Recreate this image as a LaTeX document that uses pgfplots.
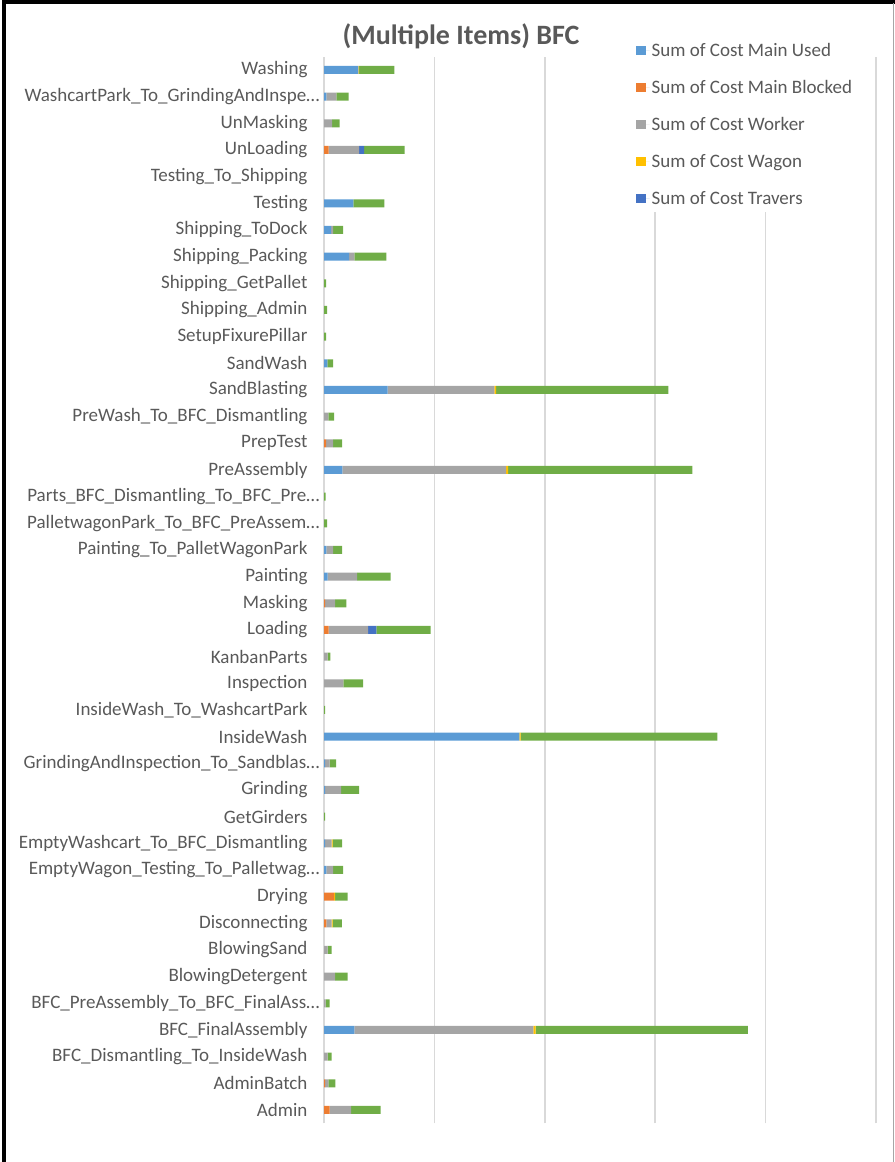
\documentclass[border=0pt]{standalone}
\usepackage{pgfplots}
\pgfplotsset{compat=1.18}
\usepackage{pgfplotstable}
\usepackage{fontspec}
\setmainfont{Carlito}
\definecolor{cUsed}{HTML}{5B9BD5}
\definecolor{cBlocked}{HTML}{ED7D31}
\definecolor{cWorker}{HTML}{A5A5A5}
\definecolor{cWagon}{HTML}{FFC000}
\definecolor{cTravers}{HTML}{4472C4}
\definecolor{cGreen}{HTML}{70AD47}
\definecolor{txt}{HTML}{595959}
\definecolor{gridc}{HTML}{D9D9D9}
\newcommand{\trunc}{…\hspace*{-12bp}}

\pgfplotstableread{
y U B W Wa T G
0 0 5.7 21.3 0 0 29.7
1 0 1 3.3 0 0 7
2 0 0 3.7 0 0 4
3 30.3 0 179 2.3 0 212.3
4 0 0 1.7 0 0 4
5 0 0 11 0 0 12.7
6 0 0 3.7 0 0 4
7 0 2.3 5.3 1 0 9.3
8 0 10 0 1 0 12.7
9 2.3 0 6.7 0 0 10
10 1 0 6.7 1 0 9.3
11 0 0 0 0 0 1
12 1 0 16 0 0 18
13 1 0 4.7 0 0 6.3
14 195.3 0 0 1.3 0 196.7
15 0 0 0 0 0 1
16 0 0 19.3 0 0 19.7
17 0 0 3.7 0 0 2.7
18 0 4.7 39.3 0 8.3 54.3
19 0 1 10 0 0 11.3
20 3.7 0 29.3 0 0 33.7
21 2.3 0 6.7 0 0 9
22 0 0 0 0 0 3
23 0 0 0 0 0 1.7
24 18.3 0 163.7 2 0 184.3
25 0 2 7 0 0 9
26 0 0 4.3 0 0 5.7
27 63.7 0 106.7 1.7 0 172.3
28 3.3 0 0 0 0 5.7
29 0 0 0 0 0 2
30 0 0 0 0 0 3
31 0 0 0 0 0 2
32 25 0 5.3 0 0 32
33 7 0 2 0 0 10
34 29.3 0 0 0 0 31
35 0 0 0 0 0 0
36 0 4.7 30.3 0 5 40.7
37 0 0 8 0 0 7.7
38 2.3 0 10 0 0 12.3
39 34.3 0 0 0.7 0 35.3
}\datatable

\begin{document}
\begin{tikzpicture}
\path[use as bounding box] (0,0) rectangle (895bp,-1162bp);
\begin{axis}[
  at={(324bp,-1123.3bp)}, anchor=south west,
  scale only axis, width=552bp, height=1066.7bp,
  xbar stacked, bar width=8bp,
  xmin=0, xmax=552, ymin=-0.5, ymax=39.5,
  xtick={0,110.4,220.8,331.2,441.6,552}, xticklabels={},
  xmajorgrids, major grid style={draw=gridc, line width=1.5bp},
  axis line style={draw=none}, tick style={draw=none},
  ytick={0,...,39},
  yticklabels={Admin,AdminBatch,BFC\_Dismantling\_To\_InsideWash,BFC\_FinalAssembly,BFC\_PreAssembly\_To\_BFC\_FinalAss\trunc,BlowingDetergent,BlowingSand,Disconnecting,Drying,EmptyWagon\_Testing\_To\_Palletwag\trunc,EmptyWashcart\_To\_BFC\_Dismantling,GetGirders,Grinding,GrindingAndInspection\_To\_Sandblas\trunc,InsideWash,InsideWash\_To\_WashcartPark,Inspection,KanbanParts,Loading,Masking,Painting,Painting\_To\_PalletWagonPark,PalletwagonPark\_To\_BFC\_PreAssem\trunc,Parts\_BFC\_Dismantling\_To\_BFC\_Pre\trunc,PreAssembly,PrepTest,PreWash\_To\_BFC\_Dismantling,SandBlasting,SandWash,SetupFixurePillar,Shipping\_Admin,Shipping\_GetPallet,Shipping\_Packing,Shipping\_ToDock,Testing,Testing\_To\_Shipping,UnLoading,UnMasking,WashcartPark\_To\_GrindingAndInspe\trunc,Washing},
  yticklabel style={font=\fontsize{19bp}{22bp}\selectfont, text=txt, anchor=east, xshift=-13bp},
  legend image code/.code={\fill[#1] (-5bp,-4.5bp) rectangle (5bp,4.5bp); \path (5bp,0bp) -- (9bp,0bp);},
  legend cell align=left,
  legend style={at={(0.5534,1.0184)}, anchor=north west, draw=none, fill=white,
    font=\fontsize{19bp}{22bp}\selectfont, text=txt, row sep=18.5bp, inner xsep=6bp, inner ysep=4bp},
  every axis plot/.append style={draw=none},
]
\addplot[fill=cUsed] table[x=U,y=y]{\datatable};
\addlegendentry{Sum of Cost Main Used}
\addplot[fill=cBlocked] table[x=B,y=y]{\datatable};
\addlegendentry{Sum of Cost Main Blocked}
\addplot[fill=cWorker] table[x=W,y=y]{\datatable};
\addlegendentry{Sum of Cost Worker}
\addplot[fill=cWagon] table[x=Wa,y=y]{\datatable};
\addlegendentry{Sum of Cost Wagon}
\addplot[fill=cTravers] table[x=T,y=y]{\datatable};
\addlegendentry{Sum of Cost Travers}
\addplot[fill=cGreen] table[x=G,y=y]{\datatable};
\end{axis}
\node[anchor=base, font=\fontsize{28bp}{32bp}\selectfont\bfseries, text=txt] at (461bp,-44bp) {(Multiple Items) BFC};
\draw[line width=4bp, black] (4bp,-1162bp) -- (4bp,-1.5bp) -- (895bp,-1.5bp);
\draw[line width=3bp, black] (2bp,-1.5bp) -- (895bp,-1.5bp);
\draw[line width=1.5bp, gray!70] (893.5bp,-3bp) -- (893.5bp,-1162bp);
\end{tikzpicture}
\end{document}
